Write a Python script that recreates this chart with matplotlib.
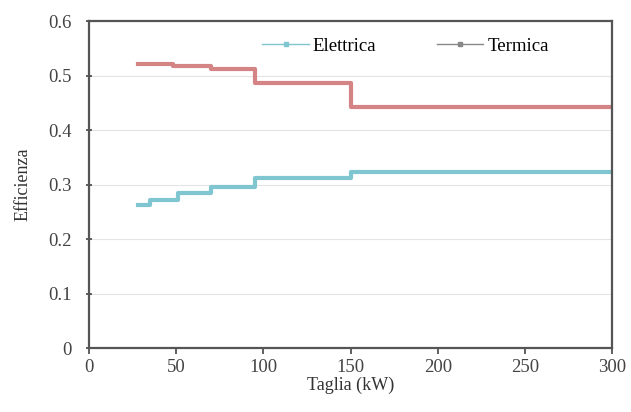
import matplotlib.pyplot as plt
from matplotlib.lines import Line2D

# data (step profiles vs plant size)
taglia_el = [28, 35, 51, 70, 95, 150, 300]
eff_el = [0.262, 0.271, 0.284, 0.296, 0.312, 0.323, 0.323]
taglia_th = [28, 48, 70, 95, 150, 300]
eff_th = [0.521, 0.517, 0.512, 0.487, 0.443, 0.443]
xticks = [0, 50, 100, 150, 200, 250, 300]
yticks = [0, 0.1, 0.2, 0.3, 0.4, 0.5, 0.6]

c_el = "#80c6d0"
c_th = "#d48484"

plt.rcParams['font.family'] = ['Liberation Serif', 'DejaVu Serif']

fig = plt.figure(figsize=(6.31, 4.12), dpi=100)
ax = fig.add_axes([0.141, 0.155, 0.829, 0.794])

ax.step(taglia_el, eff_el, where="post", color=c_el, lw=3)
ax.step(taglia_th, eff_th, where="post", color=c_th, lw=3)

ax.set_xlim(0, 300)
ax.set_ylim(0, 0.6)
ax.set_xticks(xticks)
ax.set_xticklabels([str(v) for v in xticks])
ax.set_yticks(yticks)
ax.set_yticklabels(["0" if v == 0 else f"{v:.1f}" for v in yticks])
ax.grid(axis="y", color="#e4e4e4", lw=0.8)
ax.set_axisbelow(True)

for s in ax.spines.values():
    s.set_color("#555555")
    s.set_linewidth(1.6)
ax.tick_params(axis="both", labelsize=13.5, colors="#444444", direction="inout",
               length=5, width=1.2)
ax.tick_params(axis="y", pad=10)
ax.tick_params(axis="x", direction="out", length=4, pad=4)

ax.set_xlabel("Taglia (kW)", fontsize=13, color="#333333", labelpad=0)
ax.set_ylabel("Efficienza", fontsize=13, color="#333333", labelpad=12)

handles = [
    Line2D([], [], color=c_el, lw=1, marker="s", markersize=2.5),
    Line2D([], [], color="#888888", lw=1, marker="s", markersize=2.5),
]
ax.legend(handles, ["Elettrica", "Termica"], ncol=2, frameon=False,
          loc="upper center", bbox_to_anchor=(0.605, 1.0), fontsize=13.5,
          handlelength=2.5, handletextpad=0.2, columnspacing=3.2)

fig.savefig("out.png", dpi=100)
